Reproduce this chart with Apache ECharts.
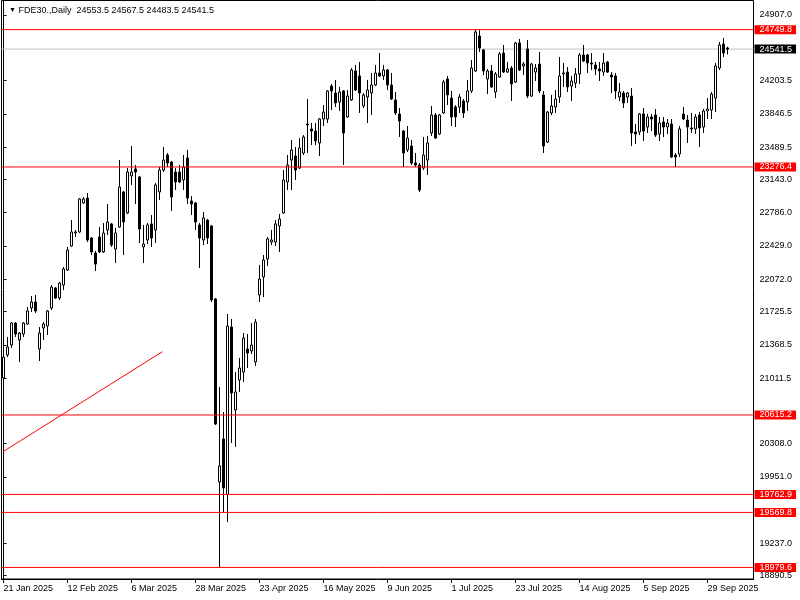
<!DOCTYPE html>
<html><head><meta charset="utf-8">
<script src="https://cdn.jsdelivr.net/npm/echarts@6/dist/echarts.min.js"></script>
<style>html,body{margin:0;padding:0;background:#fff}#c{width:800px;height:600px}</style>
</head><body><div id="c"></div>
<script>
const symbolName = 'FDE30.,Daily';
const startDate = '2025-01-21';
const closedDays = ['2025-04-18', '2025-04-21', '2025-05-01'];
const slotCount = 188; // 182 bars + chart shift

const opens = [
21012,21259,21366,21602,21420,21484,21591,21763,21828,21323,
21549,21570,21763,21978,21870,22010,22171,22428,22568,22579,
22890,22943,22514,22353,22525,22364,22600,22665,22396,22632,
23008,22783,23180,23255,23169,22418,22493,22665,22600,23008,
23244,23405,23330,23222,23222,23137,23373,22911,22890,22654,
22493,22707,22643,21860,19896,20357,19763,21559,20669,20991,
21076,21323,21302,21184,21903,22096,22289,22471,22471,22643,
22783,23115,23351,23394,23265,23426,23727,23684,23662,23534,
23791,23791,24145,24070,23974,24092,23813,23995,24306,24253,
23931,24027,24070,24156,24285,24253,24317,24156,23995,23845,
23662,23459,23501,23319,23298,23265,23351,23641,23834,23630,
23856,24220,24016,23920,23920,23984,23974,24092,24306,24682,
24532,24220,24306,24081,24242,24499,24295,24338,24188,24607,
24360,24542,24038,24295,24381,24049,23544,23856,23920,24027,
24274,24295,24145,24177,24274,24478,24478,24392,24371,24328,
24295,24403,24263,24253,24027,24070,24027,24038,23652,23652,
23845,23705,23813,23834,23630,23759,23705,23737,23405,23416,
23845,23780,23695,23684,23834,23705,23877,23888,24016,24338,
24596,24553.5];
const closes = [
21237,21345,21602,21484,21495,21602,21731,21828,21731,21495,
21591,21731,21988,21870,22031,22182,22385,22579,22579,22933,
22933,22493,22364,22235,22364,22568,22686,22439,22568,23062,
22686,23222,23222,23222,22611,22450,22654,22514,23083,23244,
23351,23319,22954,23115,23115,23276,22943,22879,22686,22514,
22729,22514,21849,20518,20069,19832,21570,20851,20862,21119,
21441,21280,21366,21613,22074,22278,22504,22493,22665,22718,
23137,23298,23459,23244,23480,23598,23737,23662,23555,23791,
23866,24092,24092,23963,24081,23641,24038,24317,24102,24070,
24049,24102,24156,24285,24253,24317,24156,24006,23856,23770,
23426,23587,23319,23298,23029,23405,23534,23834,23587,23834,
24188,24049,23813,23813,24027,23856,24092,24338,24725,24553,
24306,24306,24135,24274,24489,24295,24328,24167,24607,24317,
24381,24038,24381,24338,24092,23501,23866,23931,24006,24253,
24285,24135,24199,24274,24478,24413,24392,24381,24328,24306,
24392,24295,24242,24092,24081,23963,24070,23641,23630,23845,
23662,23813,23791,23619,23748,23705,23748,23383,23383,23684,
23791,23705,23684,23813,23695,23877,23898,24059,24360,24585,
24499,24541.5];
const lows = [
20991,21237,21334,21452,21184,21452,21581,21720,21710,21194,
21420,21473,21742,21860,21849,21956,22160,22418,22525,22568,
22879,22471,22332,22160,22353,22353,22546,22418,22246,22622,
22332,22772,23083,22879,22461,22246,22450,22418,22461,22922,
23222,23276,22804,23029,23104,23029,22879,22761,22600,22192,
22439,22450,21828,20508,18980,19570,19467,20315,20272,20862,
20969,21119,21270,21141,21828,21881,22214,22439,22428,22364,
22772,23029,23029,23137,23255,23405,23426,23512,23512,23394,
23716,23748,23888,23920,23877,23298,23802,23984,24092,23856,
23909,23748,23834,24145,24242,24210,24102,23995,23834,23598,
23276,23437,23298,23276,23008,23244,23190,23609,23577,23619,
23845,23941,23716,23705,23856,23802,23877,24070,24295,24510,
24263,24059,24124,24016,24231,24285,24285,23984,24177,24306,
24263,24016,24027,24199,24070,23426,23534,23834,23856,23963,
24135,24081,23984,24124,24167,24403,24285,24317,24263,24199,
24253,24285,24070,24006,23984,23909,23963,23501,23523,23619,
23555,23641,23662,23598,23555,23598,23630,23373,23276,23383,
23780,23534,23641,23630,23491,23641,23791,23791,23866,24317,
24456,24483.5];
const highs = [
21259,21452,21613,21613,21506,21613,21774,21892,21903,21559,
21613,21742,22010,21988,22042,22203,22418,22707,22600,22943,
22954,22997,22525,22375,22632,22675,22879,22675,22622,23351,
23019,23265,23501,23298,23180,22654,22675,22761,23104,23276,
23491,23426,23341,23265,23298,23405,23459,22965,22901,22675,
22793,22718,22654,21870,20915,20647,21699,21645,21076,21227,
21495,21484,21602,21645,22225,22332,22525,22600,22707,22772,
23244,23405,23566,23491,23587,23619,24006,23748,23748,23802,
23941,24102,24167,24210,24135,24102,24102,24338,24371,24403,
24070,24210,24285,24371,24499,24371,24328,24285,24081,23909,
23673,23716,23566,23426,23319,23598,23609,23931,23856,23845,
24210,24253,24092,23941,24059,24006,24210,24424,24750,24745,
24542,24328,24371,24295,24510,24585,24403,24360,24617,24650,
24403,24639,24392,24381,24510,24092,23877,24049,24102,24456,
24392,24349,24253,24338,24499,24585,24489,24499,24403,24403,
24499,24413,24295,24285,24177,24092,24081,24124,23737,23856,
23909,23845,23845,23898,23813,23813,23791,23791,23426,23716,
23920,23834,23856,23845,23866,23898,24016,24081,24392,24617,
24660,24567.5];

const levelLines = [24749.8, 23276.4, 20615.2, 19762.9, 19569.8, 18979.6];
const trendLine = [[-0.125, 20221], [39.7, 21294]];
const yTicks = [24907.0, 24203.5, 23846.5, 23489.5, 23143.0, 22786.0, 22429.0, 22072.0,
                21725.5, 21368.5, 21011.5, 20308.0, 19951.0, 19237.0, 18890.5];
const yMin = 18855.3, yMax = 25062.6;

const FONT = 'Liberation Sans';
const MONTHS = ['Jan','Feb','Mar','Apr','May','Jun','Jul','Aug','Sep','Oct','Nov','Dec'];
function tradingDays(start, n, closed) {
  const out = []; const d = new Date(start + 'T00:00:00Z');
  while (out.length < n) {
    const wd = d.getUTCDay(); const iso = d.toISOString().slice(0, 10);
    if (wd !== 0 && wd !== 6 && closed.indexOf(iso) < 0)
      out.push(d.getUTCDate() + ' ' + MONTHS[d.getUTCMonth()] + ' ' + d.getUTCFullYear());
    d.setUTCDate(d.getUTCDate() + 1);
  }
  return out;
}
const categories = tradingDays(startDate, slotCount, closedDays);
const ohlc = opens.map((o, i) => [o, closes[i], lows[i], highs[i]]);
const last = opens.length - 1;
const header = [opens[last], highs[last], lows[last], closes[last]].map(v => v.toFixed(1)).join(' ');
const current = closes[last];

function levelSeries(v, lineColor, bg, z) {
  return {
    type: 'line', xAxisIndex: 1, data: [[-0.5, v], [slotCount - 0.5, v]],
    symbol: 'none', silent: true, clip: false, z: z,
    itemStyle: {color: lineColor},
    lineStyle: {color: lineColor, width: 1, type: 'solid', opacity: 1},
    endLabel: {show: true, distance: 1, backgroundColor: bg, color: '#ffffff',
      fontSize: 9, fontFamily: FONT, padding: [1, 4, 0, 5], lineHeight: 8,
      formatter: () => v.toFixed(1)}
  };
}
const levelSeriesList = levelLines.map(v => levelSeries(v, '#ff0000', '#ff0000', 4));
levelSeriesList.push(levelSeries(current, '#c0c0c0', '#000000', 1));

const chart = echarts.init(document.getElementById('c'), null, {renderer: 'canvas'});
chart.setOption({
  animation: false,
  backgroundColor: '#fff',
  title: {
    text: '{t|▼} ' + symbolName + '  ' + header,
    left: 4, top: 1,
    textStyle: {fontSize: 9, fontWeight: 'normal', fontFamily: FONT, color: '#000',
      rich: {t: {fontSize: 7, color: '#000'}}}
  },
  grid: {left: 1.5, right: 46.5, top: 0.5, bottom: 21, show: true, borderColor: '#000', borderWidth: 1, backgroundColor: '#fff'},
  xAxis: [{
    type: 'category', data: categories, boundaryGap: true,
    axisLine: {show: true, lineStyle: {color: '#000'}},
    axisTick: {show: true, interval: 15, alignWithLabel: true, length: 4, lineStyle: {color: '#000'}},
    axisLabel: {interval: 15, align: 'left', margin: 5, fontSize: 9, fontFamily: FONT, color: '#000'},
    splitLine: {show: false}
  }, {
    type: 'value', min: -0.5, max: slotCount - 0.5, show: false
  }],
  yAxis: {
    type: 'value', position: 'right', min: yMin, max: yMax,
    axisLine: {show: true, lineStyle: {color: '#000'}},
    axisTick: {show: true, customValues: yTicks, length: 3, lineStyle: {color: '#000'}},
    axisLabel: {customValues: yTicks, formatter: v => Number(v).toFixed(1), margin: 6, fontSize: 9, fontFamily: FONT, color: '#000'},
    splitLine: {show: false}
  },
  series: [{
    type: 'candlestick', data: ohlc, barWidth: 2, z: 3,
    itemStyle: {color: '#fff', color0: '#000', borderColor: '#000', borderColor0: '#000', borderWidth: 1}
  }, {
    type: 'line', xAxisIndex: 1, data: trendLine, symbol: 'none', silent: true, z: 2,
    itemStyle: {color: '#ff0000'},
    lineStyle: {color: '#ff0000', width: 1}
  }].concat(levelSeriesList)
});
</script></body></html>
